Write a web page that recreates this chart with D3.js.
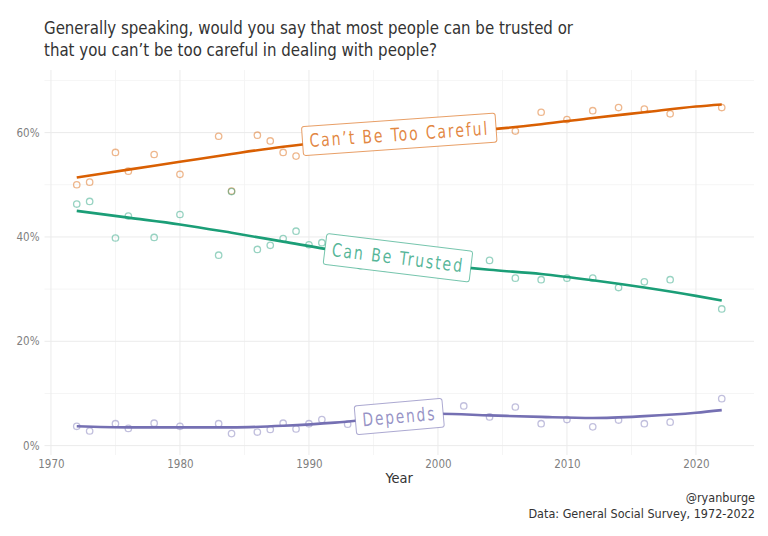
<!DOCTYPE html>
<html>
<head>
<meta charset="utf-8">
<script src="https://cdn.jsdelivr.net/npm/d3@7"></script>
<style>
  html, body { margin: 0; padding: 0; background: #ffffff; }
  svg { display: block; }
</style>
</head>
<body>
<div id="chart"></div>
<script>
// ---------- data ----------
const years = [1972,1973,1975,1976,1978,1980,1983,1984,1986,1987,1988,1989,1990,1991,1993,1994,1996,1998,2000,2002,2004,2006,2008,2010,2012,2014,2016,2018,2022];
const carefulPct = [50.0,50.5,56.2,52.6,55.8,52.0,59.3,48.8,59.5,58.4,56.2,55.5,58.5,57.5,59.0,61.0,61.5,59.5,59.0,59.5,60.0,60.3,63.9,62.5,64.2,64.8,64.5,63.6,64.8];
const trustedPct = [46.3,46.8,39.8,44.0,39.9,44.3,36.5,48.7,37.6,38.4,39.7,41.1,38.5,38.9,36.0,34.5,34.0,37.5,35.0,33.5,35.5,32.1,31.8,32.1,32.1,30.3,31.4,31.8,26.2];
const dependsPct = [3.7,2.8,4.2,3.3,4.3,3.7,4.2,2.3,2.6,3.1,4.3,3.2,4.2,5.0,4.1,5.0,5.5,5.5,5.5,7.6,5.5,7.4,4.2,5.0,3.6,4.9,4.2,4.5,9.0];

// smoothed trend lines
const fitYears    = [1972,1976,1980,1984,1988,1992,1996,2000,2004,2008,2012,2016,2020,2022];
const fitCareful  = [51.4,52.9,54.4,55.9,57.3,58.4,59.3,60.0,60.6,61.6,62.8,63.9,65.0,65.4];
const fitTrusted  = [45.0,43.7,42.4,40.8,39.1,37.4,35.9,34.7,33.7,32.9,31.7,30.3,28.7,27.8];
const fitDepends  = [3.7,3.5,3.5,3.5,3.8,4.4,5.4,6.1,5.8,5.5,5.3,5.65,6.3,6.8];

const seriesNames = ["Can\u2019t Be Too Careful", "Can Be Trusted", "Depends"];
const seriesColors = ["#d95f02", "#1b9e77", "#7570b3"];

const xMajorTicks = [1970,1980,1990,2000,2010,2020];
const xMinorTicks = [1975,1985,1995,2005,2015];
const yMajorTicks = [0,20,40,60];
const yMinorTicks = [10,30,50,70];

const titleLines = ["Generally speaking, would you say that most people can be trusted or",
                    "that you can\u2019t be too careful in dealing with people?"];
const captionLines = ["@ryanburge", "Data: General Social Survey, 1972-2022"];
const xAxisTitle = "Year";

// ---------- layout ----------
const W = 768, H = 536;
const font = "'Liberation Sans Narrow','DejaVu Sans Condensed','Roboto',sans-serif";
const svg = d3.select("#chart").append("svg").attr("width", W).attr("height", H);

const x = d3.scaleLinear().domain([1969.5, 2024.5]).range([44.5, 754]);
const y = d3.scaleLinear().domain([-1.8, 72]).range([455, 70]);

// grid
const grid = svg.append("g");
grid.selectAll(".vminor").data(xMinorTicks).join("line")
  .attr("x1", d => x(d)).attr("x2", d => x(d)).attr("y1", y.range()[0]).attr("y2", y.range()[1])
  .attr("stroke", "#f3f3f3").attr("stroke-width", 0.8);
grid.selectAll(".hminor").data(yMinorTicks).join("line")
  .attr("x1", x.range()[0]).attr("x2", x.range()[1]).attr("y1", d => y(d)).attr("y2", d => y(d))
  .attr("stroke", "#f3f3f3").attr("stroke-width", 0.8);
grid.selectAll(".vmajor").data(xMajorTicks).join("line")
  .attr("x1", d => x(d)).attr("x2", d => x(d)).attr("y1", y.range()[0]).attr("y2", y.range()[1])
  .attr("stroke", "#ebebeb").attr("stroke-width", 1);
grid.selectAll(".hmajor").data(yMajorTicks).join("line")
  .attr("x1", x.range()[0]).attr("x2", x.range()[1]).attr("y1", d => y(d)).attr("y2", d => y(d))
  .attr("stroke", "#ebebeb").attr("stroke-width", 1);

// axes (text only)
const xAxis = d3.axisBottom(x).tickValues(xMajorTicks).tickFormat(d3.format("d")).tickSize(0).tickPadding(5);
const gx = svg.append("g").attr("transform", `translate(0,${y.range()[0]})`).call(xAxis);
gx.select(".domain").remove();
gx.selectAll("text").attr("font-family", font).attr("font-size", 11.5).attr("fill", "#7f7f7f");

const yAxis = d3.axisLeft(y).tickValues(yMajorTicks).tickFormat(d => d + "%").tickSize(0).tickPadding(5);
const gy = svg.append("g").attr("transform", `translate(${x.range()[0]},0)`).call(yAxis);
gy.select(".domain").remove();
gy.selectAll("text").attr("font-family", font).attr("font-size", 11.5).attr("fill", "#7f7f7f");

// points
const allSeries = [carefulPct, trustedPct, dependsPct];
const allFits = [fitCareful, fitTrusted, fitDepends];
allSeries.forEach((vals, i) => {
  svg.append("g").selectAll("circle").data(vals).join("circle")
    .attr("cx", (d, j) => x(years[j])).attr("cy", d => y(d)).attr("r", 3.2)
    .attr("fill", "none").attr("stroke", seriesColors[i]).attr("stroke-opacity", 0.45).attr("stroke-width", 1.3);
});

// trend lines
const line = d3.line().curve(d3.curveMonotoneX);
allFits.forEach((vals, i) => {
  svg.append("path")
    .attr("d", line(vals.map((v, j) => [x(fitYears[j]), y(v)])))
    .attr("fill", "none").attr("stroke", seriesColors[i]).attr("stroke-width", 2.6);
});

// labels on the lines
const labelSpecs = [
  { name: seriesNames[0], year: 1997.0, dy: -1, fit: fitCareful, w: 194, h: 29, angle: -4, size: 18.5, ls: 2.2 },
  { name: seriesNames[1], year: 1996.9, dy: -2, fit: fitTrusted, w: 147, h: 31, angle: 7, size: 18.5, ls: 2.2 },
  { name: seriesNames[2], year: 1997.0, dy: 0, fit: fitDepends, w: 88, h: 29, angle: -5, size: 18.5, ls: 2.2 }
];
const interp = (fit, yr) => {
  for (let j = 0; j < fitYears.length - 1; j++) {
    if (yr >= fitYears[j] && yr <= fitYears[j + 1]) {
      const t = (yr - fitYears[j]) / (fitYears[j + 1] - fitYears[j]);
      return fit[j] + t * (fit[j + 1] - fit[j]);
    }
  }
  return fit[fit.length - 1];
};
labelSpecs.forEach((s, i) => {
  const cx = x(s.year), cy = y(interp(s.fit, s.year)) + s.dy;
  const g = svg.append("g").attr("transform", `translate(${cx},${cy}) rotate(${s.angle})`);
  g.append("rect").attr("x", -s.w / 2).attr("y", -s.h / 2).attr("width", s.w).attr("height", s.h)
    .attr("rx", 2.5).attr("fill", "#ffffff").attr("stroke", seriesColors[i]).attr("stroke-opacity", 0.6).attr("stroke-width", 1);
  g.append("text").attr("x", 0).attr("y", 0).attr("dy", "0.35em").attr("text-anchor", "middle")
    .attr("font-family", font).attr("font-size", s.size).attr("letter-spacing", s.ls)
    .attr("fill", seriesColors[i]).attr("fill-opacity", 0.75)
    .attr("textLength", s.w - 14).attr("lengthAdjust", "spacingAndGlyphs")
    .text(s.name);
});

// title
const titleLens = [529, 393];
titleLines.forEach((t, i) => {
  svg.append("text").attr("x", 44).attr("y", 34 + i * 21.5)
    .attr("font-family", font).attr("font-size", 17.5).attr("fill", "#333333")
    .attr("textLength", titleLens[i]).attr("lengthAdjust", "spacingAndGlyphs")
    .text(t);
});

// x axis title
svg.append("text").attr("x", (x.range()[0] + x.range()[1]) / 2).attr("y", 483)
  .attr("text-anchor", "middle").attr("font-family", font).attr("font-size", 14.5).attr("fill", "#333333")
  .text(xAxisTitle);

// caption
captionLines.forEach((t, i) => {
  svg.append("text").attr("x", 755).attr("y", 502 + i * 15.5).attr("text-anchor", "end")
    .attr("font-family", font).attr("font-size", 12.5).attr("fill", "#333333")
    .text(t);
});
</script>
</body>
</html>
